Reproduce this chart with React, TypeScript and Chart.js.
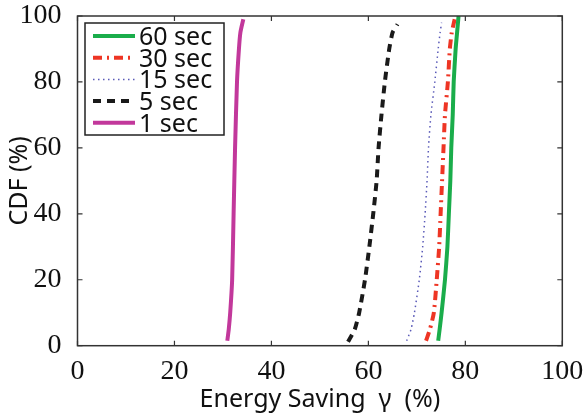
import React, { useEffect, useRef } from "react";
import { Chart, registerables } from "chart.js";

Chart.register(...registerables);

const labels = ["60 sec", "30 sec", "15 sec", "5 sec", "1 sec"];
const colors = ["#1aad4b", "#ee3524", "#5a5ab8", "#1a1a1a", "#c2389b"];

const cdf60 = [1.5, 5, 10, 20, 30, 40, 50, 60, 70, 80, 90, 95, 100];
const sav60 = [74.4, 74.7, 75.1, 75.8, 76.3, 76.6, 76.9, 77.1, 77.4, 77.6, 78.0, 78.3, 78.6];

const cdf30 = [1.5, 5, 10, 20, 30, 40, 50, 60, 70, 80, 90, 95, 99];
const sav30 = [71.9, 72.7, 73.5, 74.1, 74.6, 74.9, 75.2, 75.5, 75.8, 76.4, 76.8, 77.2, 77.8];

const cdf15 = [1.5, 5, 10, 20, 30, 40, 50, 60, 70, 80, 90, 95, 98];
const sav15 = [67.9, 68.8, 69.5, 70.5, 71.2, 71.7, 72.1, 72.4, 72.9, 73.7, 74.4, 74.8, 75.1];

const cdf5 = [1.2, 5, 10, 20, 30, 40, 50, 60, 70, 80, 90, 95, 97.5];
const sav5 = [55.8, 57.2, 58.1, 59.3, 60.2, 61.0, 61.7, 62.1, 62.7, 63.4, 64.3, 65.0, 66.0];

const cdf1 = [1.5, 5, 10, 20, 40, 60, 80, 90, 95, 99];
const sav1 = [30.9, 31.2, 31.5, 31.9, 32.2, 32.5, 32.9, 33.3, 33.6, 34.2];

const tickValues = [0, 20, 40, 60, 80, 100];

const xs = [sav60, sav30, sav15, sav5, sav1];
const ys = [cdf60, cdf30, cdf15, cdf5, cdf1];
const widths = [4, 4, 1.5, 4, 4];
const dashes: number[][] = [[], [9, 5, 2, 5], [1.5, 3.5], [8, 6], []];

const framePlugin = {
  id: "frame",
  afterDraw(chart: any) {
    const { ctx, chartArea: a, scales } = chart;
    ctx.save();
    ctx.strokeStyle = "#333";
    ctx.lineWidth = 1.5;
    ctx.strokeRect(a.left, a.top, a.right - a.left, a.bottom - a.top);
    ctx.lineWidth = 1.2;
    const tl = 5;
    tickValues.forEach((v) => {
      const x = scales.x.getPixelForValue(v);
      const y = scales.y.getPixelForValue(v);
      ctx.beginPath();
      ctx.moveTo(x, a.bottom); ctx.lineTo(x, a.bottom - tl);
      ctx.moveTo(x, a.top); ctx.lineTo(x, a.top + tl);
      ctx.moveTo(a.left, y); ctx.lineTo(a.left + tl, y);
      ctx.moveTo(a.right, y); ctx.lineTo(a.right - tl, y);
      ctx.stroke();
    });
    // legend
    const bx = 85, by = 23, bw = 139, bh = 112;
    ctx.fillStyle = "#fff";
    ctx.fillRect(bx, by, bw, bh);
    ctx.strokeStyle = "#222";
    ctx.lineWidth = 1.5;
    ctx.strokeRect(bx, by, bw, bh);
    chart.data.datasets.forEach((ds: any, i: number) => {
      const yy = 36 + i * 21.7;
      ctx.beginPath();
      ctx.setLineDash(ds.borderDash || []);
      ctx.strokeStyle = ds.borderColor;
      ctx.lineWidth = ds.borderWidth;
      ctx.moveTo(93, yy);
      ctx.lineTo(135, yy);
      ctx.stroke();
      ctx.setLineDash([]);
      ctx.fillStyle = "#111";
      ctx.font = "25px 'Noto Sans'";
      ctx.textBaseline = "alphabetic";
      ctx.textAlign = "left";
      ctx.fillText(ds.label, 139, yy + 9);
    });
    ctx.restore();
  },
};

export default function App() {
  const ref = useRef<HTMLCanvasElement>(null);
  useEffect(() => {
    document.body.style.margin = "0";
    const chart = new Chart(ref.current!, {
      type: "scatter",
      data: {
        datasets: labels.map((l, i) => ({
          label: l,
          data: xs[i].map((x, j) => ({ x, y: ys[i][j] })),
          showLine: true,
          borderColor: colors[i],
          backgroundColor: colors[i],
          borderWidth: widths[i],
          borderDash: dashes[i],
          pointRadius: 0,
          tension: 0.2,
          borderCapStyle: "butt",
        })),
      },
      options: {
        animation: false,
        responsive: false,
        layout: { padding: { left: 5, right: 22.7, top: 16, bottom: 0 } },
        plugins: { legend: { display: false }, tooltip: { enabled: false } },
        scales: {
          x: {
            type: "linear",
            min: 0,
            max: 100,
            afterFit: (s: any) => { s.height = 74.3; },
            afterBuildTicks: (s: any) => { s.ticks = tickValues.map((v) => ({ value: v })); },
            grid: { display: false },
            border: { display: false },
            ticks: { color: "#111", font: { family: "'Liberation Serif'", size: 28 }, padding: 1 },
            title: {
              display: true,
              text: "Energy Saving  γ  (%)",
              color: "#111",
              font: { family: "'Noto Sans'", size: 25 },
              padding: { top: 0, bottom: 5 },
            },
          },
          y: {
            min: 0,
            max: 100,
            afterFit: (s: any) => { s.width = 72.5; s.paddingTop = 0; s.paddingBottom = 0; },
            afterBuildTicks: (s: any) => { s.ticks = tickValues.map((v) => ({ value: v })); },
            grid: { display: false },
            border: { display: false },
            ticks: { color: "#111", font: { family: "'Liberation Serif'", size: 28 }, padding: 8 },
            title: {
              display: true,
              text: "CDF (%)",
              color: "#111",
              font: { family: "'Noto Sans'", size: 25 },
              padding: { top: 0, bottom: 0 },
            },
          },
        },
      },
      plugins: [framePlugin],
    });
    return () => chart.destroy();
  }, []);
  return (
    <div style={{ position: "absolute", left: 0, top: 0, width: 585, height: 420 }}>
      <canvas ref={ref} width={585} height={420} />
    </div>
  );
}
